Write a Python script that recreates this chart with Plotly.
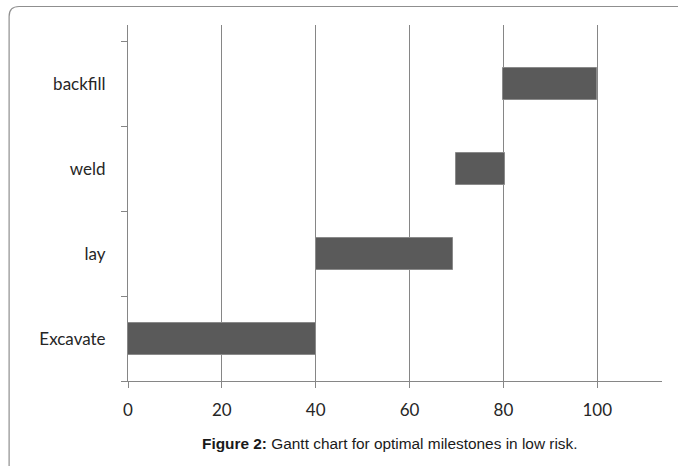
import plotly.graph_objects as go

# Milestone schedule (low-risk case)
tasks = ["Excavate", "lay", "weld", "backfill"]
start = [0, 40, 69.8, 80]
finish = [40, 69.3, 80.4, 100]
x_ticks = [0, 20, 40, 60, 80, 100]

duration = [f - s for s, f in zip(start, finish)]
positions = list(range(len(tasks)))

W, H = 678, 466
ML, MR, MT, MB = 127.5, 16, 25, 85
PW, PH = W - ML - MR, H - MT - MB

AXIS_GREY = "#868686"
TEXT = "#262626"

fig = go.Figure()
fig.add_trace(go.Bar(
    y=positions,
    x=duration,
    base=start,
    orientation="h",
    width=0.38,
    marker=dict(color="#5a5a5a", line=dict(color="#8a8a8a", width=1)),
    hoverinfo="skip",
    showlegend=False,
))


def px_x(p):
    return (p - ML) / PW


def px_y(p):
    return 1 - (p - MT) / PH


# rounded frame around the chart (top and left edges visible)
r = 10
x0, y0, x1, y1 = 8.5, 6.5, 700, 480
frame = (
    f"M {px_x(x0)},{px_y(y1)} "
    f"L {px_x(x0)},{px_y(y0 + r)} "
    f"Q {px_x(x0)},{px_y(y0)} {px_x(x0 + r)},{px_y(y0)} "
    f"L {px_x(x1)},{px_y(y0)}"
)

fig.update_layout(
    width=W,
    height=H,
    margin=dict(l=ML, r=MR, t=MT, b=MB),
    paper_bgcolor="white",
    plot_bgcolor="white",
    bargap=0,
    font=dict(family="Lato, 'Open Sans', sans-serif", color=TEXT),
    xaxis=dict(
        range=[0, 113.8],
        tickvals=x_ticks,
        ticktext=[str(v) for v in x_ticks],
        ticks="outside",
        ticklen=6,
        tickcolor=AXIS_GREY,
        tickfont=dict(size=17, color=TEXT),
        ticklabelstandoff=8,
        showgrid=True,
        gridcolor=AXIS_GREY,
        gridwidth=1,
        showline=True,
        linecolor=AXIS_GREY,
        linewidth=1,
        zeroline=False,
        fixedrange=True,
    ),
    yaxis=dict(
        range=[-0.5, 3.70],
        tickvals=positions,
        ticktext=tasks,
        ticks="",
        tickfont=dict(size=17, color=TEXT),
        ticklabelstandoff=18,
        minor=dict(
            tickvals=[p - 0.5 for p in positions] + [positions[-1] + 0.5],
            ticks="outside",
            ticklen=6,
            tickcolor=AXIS_GREY,
            showgrid=False,
        ),
        showgrid=False,
        showline=True,
        linecolor=AXIS_GREY,
        linewidth=1,
        zeroline=False,
        fixedrange=True,
    ),
    shapes=[dict(
        type="path",
        path=frame,
        xref="paper",
        yref="paper",
        line=dict(color="#8f8f8f", width=1.2),
        layer="above",
    )],
    annotations=[dict(
        text="<b>Figure 2:</b> Gantt chart for optimal milestones in low risk.",
        xref="paper",
        yref="paper",
        x=px_x(390),
        y=px_y(443),
        xanchor="center",
        yanchor="middle",
        showarrow=False,
        font=dict(family="'Liberation Sans', Arial, sans-serif", size=15.4, color="#1a1a1a"),
    )],
)

fig.write_html("out.html")
